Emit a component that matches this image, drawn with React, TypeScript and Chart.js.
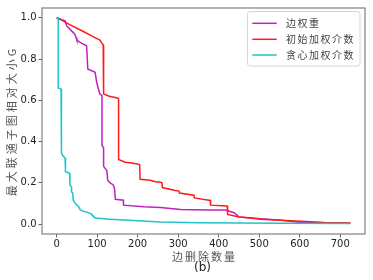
import React, { useEffect, useRef } from 'react';
import { Chart, registerables } from 'chart.js';

Chart.register(...registerables);

const seriesLabels = ['边权重', '初始加权介数', '贪心加权介数'];
const seriesColors = ['#c41ec4', '#ff1a1a', '#1fc4c4'];

const edgeWeightX = [0, 8, 21, 25, 37, 45, 48, 50, 62, 74, 77, 95, 99, 103, 107, 112, 112, 116, 116, 124, 126, 132, 140, 143, 145, 165, 165, 215, 256, 281, 306, 380, 417, 430, 438, 450, 479, 554, 603, 660, 725];
const edgeWeightY = [1.0, 0.995, 0.986, 0.961, 0.937, 0.921, 0.905, 0.892, 0.876, 0.865, 0.752, 0.736, 0.688, 0.656, 0.631, 0.623, 0.382, 0.37, 0.28, 0.26, 0.213, 0.2, 0.19, 0.172, 0.12, 0.116, 0.092, 0.084, 0.081, 0.076, 0.071, 0.068, 0.068, 0.06, 0.055, 0.035, 0.03, 0.019, 0.008, 0.006, 0.005];

const initBetweenX = [0, 3, 30, 66, 91, 107, 111, 115, 116, 130, 150, 153, 153, 169, 186, 202, 205, 206, 231, 244, 256, 260, 261, 293, 302, 303, 339, 340, 376, 379, 380, 421, 422, 450, 479, 504, 554, 628, 661, 725];
const initBetweenY = [1.0, 1.0, 0.97, 0.934, 0.908, 0.892, 0.88, 0.87, 0.631, 0.62, 0.612, 0.607, 0.313, 0.3, 0.296, 0.29, 0.287, 0.217, 0.213, 0.205, 0.203, 0.2, 0.177, 0.163, 0.16, 0.151, 0.14, 0.127, 0.116, 0.116, 0.092, 0.088, 0.047, 0.035, 0.03, 0.023, 0.019, 0.011, 0.008, 0.005];

const greedyBetweenX = [0, 4, 4, 11, 12, 16, 21, 22, 29, 32, 33, 37, 37, 40, 41, 45, 50, 54, 58, 66, 75, 85, 87, 95, 132, 190, 256, 350, 450, 550, 725];
const greedyBetweenY = [1.0, 1.0, 0.66, 0.655, 0.345, 0.33, 0.32, 0.253, 0.25, 0.245, 0.19, 0.18, 0.156, 0.15, 0.116, 0.103, 0.092, 0.087, 0.07, 0.062, 0.058, 0.05, 0.045, 0.03, 0.024, 0.017, 0.01, 0.007, 0.005, 0.004, 0.003];

const xTicks = [0, 100, 200, 300, 400, 500, 600, 700];
const yTicks = [0, 0.2, 0.4, 0.6, 0.8, 1.0];

const xTitle = '边删除数量';
const yTitle = '最大联通子图相对大小G';
const subTitle = '(b)';

const cjkFont = '"Noto Sans CJK SC", "Noto Sans", sans-serif';

const toPoints = (xs: number[], ys: number[]) => xs.map((x, i) => ({ x, y: ys[i] }));

const decorPlugin = {
  id: 'decor',
  afterDraw(chart: any) {
    const ctx = chart.ctx as any;
    const a = chart.chartArea;
    ctx.save();
    // frame
    ctx.strokeStyle = '#808080';
    ctx.lineWidth = 1.2;
    ctx.strokeRect(a.left, a.top, a.right - a.left, a.bottom - a.top);

    const cx = (a.left + a.right) / 2;
    // x axis title
    ctx.fillStyle = '#555';
    ctx.textAlign = 'center';
    ctx.textBaseline = 'alphabetic';
    ctx.font = `11px ${cjkFont}`;
    ctx.letterSpacing = '2px';
    ctx.fillText(xTitle, cx + 1, 260.5);
    ctx.letterSpacing = '0px';
    ctx.font = '12px "DejaVu Sans", sans-serif';
    ctx.fillStyle = '#222';
    ctx.fillText(subTitle, cx - 1, 270.5);

    // y axis title
    ctx.save();
    ctx.translate(15.5, (a.top + a.bottom) / 2);
    ctx.rotate(-Math.PI / 2);
    ctx.fillStyle = '#555';
    ctx.font = `11px ${cjkFont}`;
    ctx.letterSpacing = '3px';
    ctx.textAlign = 'center';
    ctx.textBaseline = 'alphabetic';
    ctx.fillText(yTitle, 0, 0);
    ctx.restore();

    // legend
    const bx = 247.5, by = 11.5, bw = 112.5, bh = 54.5;
    ctx.beginPath();
    ctx.roundRect(bx, by, bw, bh, 2.5);
    ctx.fillStyle = 'rgba(255,255,255,0.85)';
    ctx.fill();
    ctx.strokeStyle = '#d6d6d6';
    ctx.lineWidth = 1;
    ctx.stroke();
    const rows = [23.3, 39.3, 55];
    chart.data.datasets.forEach((ds: any, i: number) => {
      const y = rows[i];
      ctx.beginPath();
      ctx.strokeStyle = ds.borderColor;
      ctx.lineWidth = 1.5;
      ctx.moveTo(252.3, y);
      ctx.lineTo(276.7, y);
      ctx.stroke();
      ctx.fillStyle = '#444';
      ctx.textAlign = 'left';
      ctx.textBaseline = 'alphabetic';
      ctx.font = `10px ${cjkFont}`;
      ctx.letterSpacing = '1.5px';
      ctx.fillText(ds.label, 286, y + 4);
    });
    ctx.letterSpacing = '0px';
    ctx.restore();
  },
};

export default function App() {
  const ref = useRef<HTMLCanvasElement>(null);
  useEffect(() => {
    document.body.style.margin = '0';
    const canvas = ref.current!;
    const seriesX = [edgeWeightX, initBetweenX, greedyBetweenX];
    const seriesY = [edgeWeightY, initBetweenY, greedyBetweenY];
    const chart = new Chart(canvas, {
      type: 'line',
      data: {
        datasets: seriesLabels.map((label, i) => ({
          label,
          data: toPoints(seriesX[i], seriesY[i]),
          borderColor: seriesColors[i],
          backgroundColor: seriesColors[i],
          borderWidth: 1.5,
          pointRadius: 0,
          tension: 0,
          fill: false,
          order: 2 - i,
        })),
      },
      options: {
        animation: false,
        responsive: false,
        maintainAspectRatio: false,
        layout: { padding: { left: 0, right: 8, top: 7, bottom: 0 } },
        plugins: { legend: { display: false }, tooltip: { enabled: false } },
        scales: {
          x: {
            type: 'linear',
            min: -36,
            max: 761,
            afterBuildTicks: (s: any) => {
              s.ticks = xTicks.map((v) => ({ value: v }));
            },
            afterFit: (s: any) => {
              s.height = 46;
            },
            grid: { drawOnChartArea: false, drawTicks: true, tickLength: 3.5, color: '#666', lineWidth: 1 },
            border: { display: false },
            ticks: {
              padding: 1,
              color: '#222',
              maxRotation: 0,
              autoSkip: false,
              font: { family: '"DejaVu Sans", sans-serif', size: 10 },
              callback: (v: any) => String(v),
            },
          },
          y: {
            type: 'linear',
            min: -0.048,
            max: 1.048,
            afterBuildTicks: (s: any) => {
              s.ticks = yTicks.map((v) => ({ value: v }));
            },
            afterFit: (s: any) => {
              s.width = 42;
            },
            grid: { drawOnChartArea: false, drawTicks: true, tickLength: 3.5, color: '#666', lineWidth: 1 },
            border: { display: false },
            ticks: {
              padding: 2,
              color: '#222',
              autoSkip: false,
              font: { family: '"DejaVu Sans", sans-serif', size: 10 },
              callback: (v: any) => Number(v).toFixed(1),
            },
          },
        },
      },
      plugins: [decorPlugin],
    });
    return () => chart.destroy();
  }, []);
  return (
    <div style={{ position: 'fixed', left: 0, top: 0, width: 373, height: 280, background: '#fff' }}>
      <canvas ref={ref} width={373} height={280} style={{ display: 'block' }} />
    </div>
  );
}
